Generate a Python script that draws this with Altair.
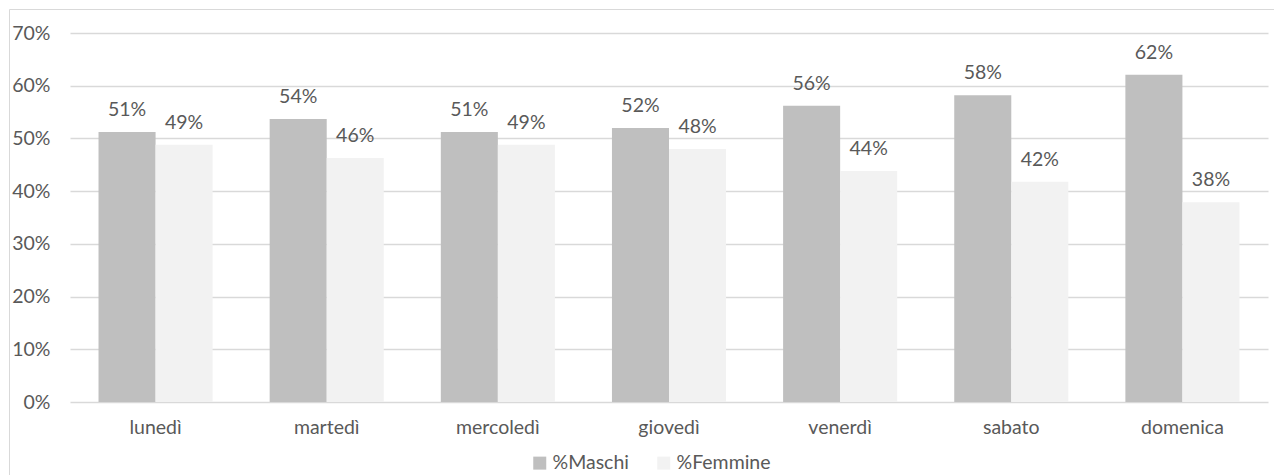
import altair as alt
import pandas as pd

# ---- data ----
giorni = ["lunedì", "martedì", "mercoledì", "giovedì", "venerdì", "sabato", "domenica"]
maschi = [0.512, 0.537, 0.512, 0.520, 0.562, 0.582, 0.621]
femmine = [0.488, 0.463, 0.488, 0.480, 0.438, 0.418, 0.379]
serie = ["%Maschi", "%Femmine"]
colori = ["#BFBFBF", "#F2F2F2"]
titolo = ["Grafico 13. Accessi al PS per giorno della settimana e per genere (valori %). Sardegna, 2024"]
y_ticks = [0, 0.1, 0.2, 0.3, 0.4, 0.5, 0.6, 0.7]

rows = []
for g, m, f in zip(giorni, maschi, femmine):
    rows.append({"giorno": g, "serie": serie[0], "valore": m})
    rows.append({"giorno": g, "serie": serie[1], "valore": f})
df = pd.DataFrame(rows)

FONT = "Lato"
TXT = "#595959"
GRID = "#D9D9D9"
FS = 19.5

base = alt.Chart(df).encode(
    x=alt.X(
        "giorno:N",
        sort=giorni,
        title=None,
        scale=alt.Scale(paddingInner=1 / 3, paddingOuter=1 / 6),
        axis=alt.Axis(
            labelAngle=0, domain=False, ticks=False, labelPadding=16,
            labelFont=FONT, labelFontSize=FS, labelColor=TXT, grid=False,
        ),
    ),
    xOffset=alt.XOffset("serie:N", sort=serie, scale=alt.Scale(paddingInner=0, paddingOuter=0)),
    y=alt.Y(
        "valore:Q",
        title=None,
        scale=alt.Scale(domain=[0, 0.7], nice=False),
        axis=alt.Axis(
            values=y_ticks, format=".0%", domain=False, ticks=False,
            labelPadding=20, labelFont=FONT, labelFontSize=FS, labelColor=TXT,
            grid=True, gridColor=GRID, gridWidth=1.3,
        ),
    ),
)

bars = base.mark_bar().encode(
    color=alt.Color(
        "serie:N",
        sort=serie,
        scale=alt.Scale(domain=serie, range=colori),
        legend=alt.Legend(
            title=None, orient="none", direction="horizontal",
            legendX=460, legendY=420,
            symbolType="square", symbolSize=169, symbolStrokeWidth=0,
            labelFont=FONT, labelFontSize=FS, labelColor=TXT,
            columnPadding=25, labelOffset=3,
        ),
    )
)

labels = base.mark_text(
    baseline="alphabetic", dy=-16, font=FONT, fontSize=FS, color=TXT
).encode(text=alt.Text("valore:Q", format=".0%"))

frame = alt.Chart(pd.DataFrame({"k": [0]})).mark_rect(
    fillOpacity=0, stroke=GRID, strokeWidth=1
).encode(
    x=alt.value(-60.5), y=alt.value(-23.5), x2=alt.value(1400), y2=alt.value(600)
)

title = alt.Chart(pd.DataFrame({"t": titolo})).mark_text(
    align="left", baseline="alphabetic", font="Liberation Sans",
    fontStyle="italic", fontSize=14, color="#262626"
).encode(x=alt.value(-62), y=alt.value(-28), text="t:N")

chart = (
    alt.layer(frame, bars, labels, title)
    .properties(
        width=1198,
        height=369,
        padding={"left": 62, "top": 25, "right": 6, "bottom": 73},
        autosize=alt.AutoSizeParams(type="none"),
    )
    .configure_view(stroke=None)
)

chart.save("out.html", embed_options={"renderer": "svg", "actions": False})
